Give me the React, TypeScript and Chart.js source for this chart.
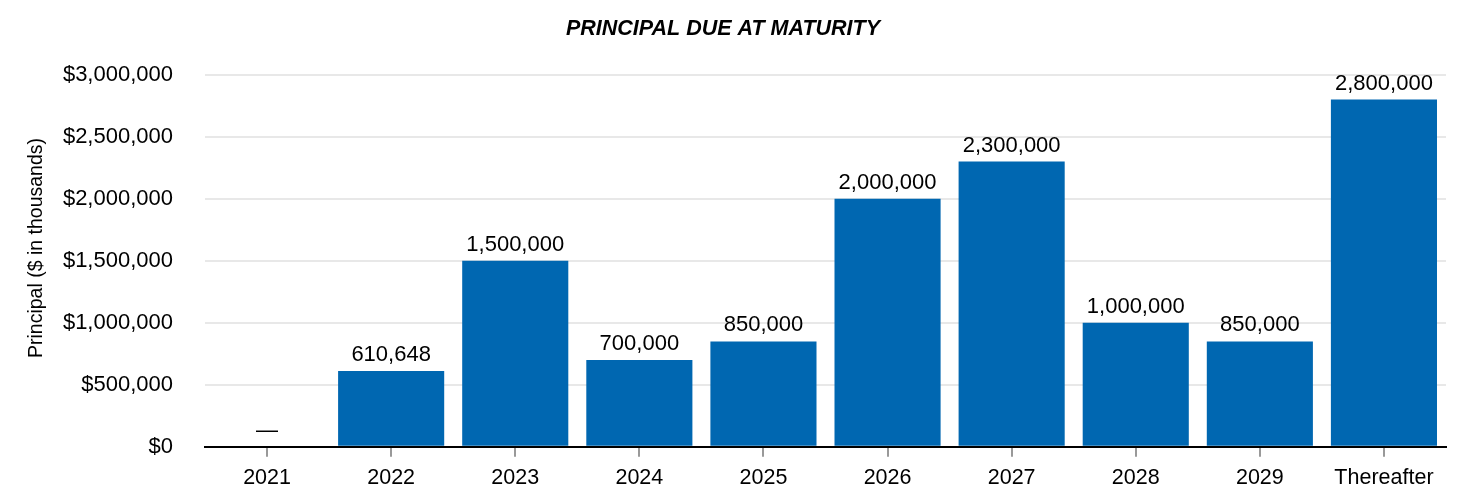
import React, { useEffect, useRef } from "react";
import { Chart, registerables } from "chart.js";

Chart.register(...registerables);

const categories = ["2021", "2022", "2023", "2024", "2025", "2026", "2027", "2028", "2029", "Thereafter"];
const principal = [0, 610648, 1500000, 700000, 850000, 2000000, 2300000, 1000000, 850000, 2800000];
const yTicks = [0, 500000, 1000000, 1500000, 2000000, 2500000, 3000000];
const yTitle = "Principal ($ in thousands)";

const FONT = "'Liberation Sans', Arial, Helvetica, sans-serif";
const BAR_COLOR = "#0067B1";

const fmt = (v: number) => v.toLocaleString("en-US");

const labelPlugin = {
  id: "barLabels",
  afterDatasetsDraw(chart: any) {
    const ctx = chart.ctx;
    const meta = chart.getDatasetMeta(0);
    ctx.save();
    ctx.fillStyle = "#000";
    ctx.font = `22px ${FONT}`;
    ctx.textAlign = "center";
    ctx.textBaseline = "alphabetic";
    meta.data.forEach((bar: any, i: number) => {
      const v = principal[i];
      const text = v === 0 ? "—" : fmt(v);
      ctx.fillText(text, bar.x, bar.y - 10);
    });
    ctx.restore();
  },
};

const yTitlePlugin = {
  id: "yTitle",
  afterDraw(chart: any) {
    const ctx = chart.ctx;
    ctx.save();
    ctx.fillStyle = "#000";
    ctx.font = `19.5px ${FONT}`;
    ctx.textAlign = "center";
    ctx.textBaseline = "middle";
    ctx.translate(37, chart.height / 2 + 2);
    ctx.rotate(-Math.PI / 2);
    ctx.fillText(yTitle, 0, 0);
    ctx.restore();
  },
};

export default function App() {
  const ref = useRef<HTMLCanvasElement | null>(null);
  useEffect(() => {
    document.body.style.margin = "0";
    document.body.style.overflow = "hidden";
    document.documentElement.style.overflow = "hidden";
    const chart = new Chart(ref.current as HTMLCanvasElement, {
      type: "bar",
      data: {
        labels: categories,
        datasets: [
          {
            data: principal,
            backgroundColor: BAR_COLOR,
            barPercentage: 0.855,
            categoryPercentage: 1,
          },
        ],
      },
      options: {
        animation: false,
        responsive: false,
        maintainAspectRatio: false,
        devicePixelRatio: 1,
        layout: { padding: { left: 0, right: 20, top: 0, bottom: -12.2 } },
        plugins: {
          legend: { display: false },
          tooltip: { enabled: false },
          title: {
            display: true,
            text: "PRINCIPAL DUE AT MATURITY",
            color: "#000",
            font: { family: FONT, size: 21.5, weight: "bold", style: "italic" },
            padding: { top: 16, bottom: 33 },
          },
        },
        scales: {
          x: {
            grid: {
              offset: false,
              drawOnChartArea: false,
              drawTicks: true,
              tickLength: 10,
              color: "#999",
              lineWidth: 2,
            },
            border: { display: true, color: "#000", width: 2 },
            ticks: {
              color: "#000",
              font: { family: FONT, size: 21.5 },
              padding: 8,
              maxRotation: 0,
              autoSkip: false,
            },
          },
          y: {
            min: 0,
            max: 3000000,
            afterBuildTicks(scale: any) {
              scale.ticks = yTicks.map((v) => ({ value: v }));
            },
            grid: { color: "#e8e8e8", lineWidth: 2, drawTicks: false },
            border: { display: false },
            ticks: {
              color: "#000",
              font: { family: FONT, size: 22 },
              padding: 32,
              callback: (v: any) => "$" + fmt(Number(v)),
            },
            afterFit(scale: any) {
              scale.width = 205;
            },
          },
        },
      },
      plugins: [labelPlugin, yTitlePlugin],
    } as any);
    return () => chart.destroy();
  }, []);
  return (
    <div style={{ width: 1466, height: 492, overflow: "hidden" }}>
      <canvas ref={ref} width={1466} height={492} style={{ display: "block" }} />
    </div>
  );
}
